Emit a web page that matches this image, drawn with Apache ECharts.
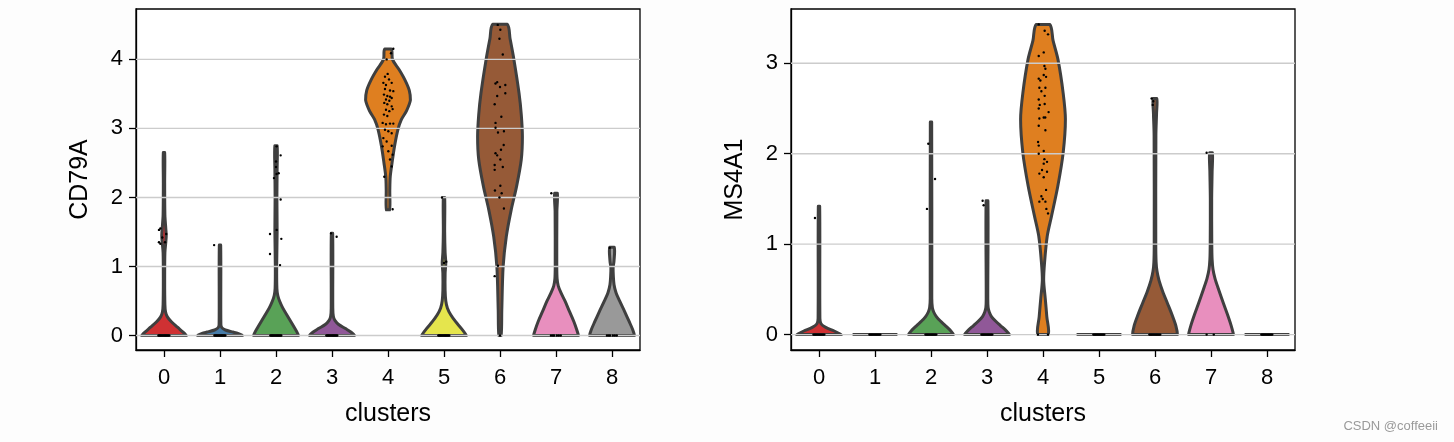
<!DOCTYPE html>
<html>
<head>
<meta charset="utf-8">
<script src="https://cdn.jsdelivr.net/npm/echarts@6/dist/echarts.min.js"></script>
<style>
html,body{margin:0;padding:0;background:#fdfdfd;}
#chart{width:1454px;height:442px;}
</style>
</head>
<body>
<div id="chart"></div>
<script>
// ---------------- data ----------------
const clusters = ['0','1','2','3','4','5','6','7','8'];
const clusterColors = ['#cf3133','#477ca8','#59a257','#905898','#df7f20','#e5e54d','#965a37','#e88fbe','#999999'];

const cd79aTicks = [0, 1, 2, 3, 4];
const ms4a1Ticks = [0, 1, 2, 3];

// violin profiles: [expression value, relative half width (1 = widest)]
const cd79aViolin = [
  [[0,1],[0.05,0.85],[0.12,0.6],[0.2,0.33],[0.27,0.15],[0.34,0.07],[0.45,0.04],[0.8,0.03],[1.2,0.04],[1.35,0.08],[1.45,0.1],[1.55,0.08],[1.75,0.04],[2.2,0.03],[2.65,0.03]],
  [[0,1],[0.03,0.8],[0.05,0.58],[0.08,0.24],[0.11,0.09],[0.16,0.04],[1.31,0.03]],
  [[0,1],[0.06,0.92],[0.15,0.76],[0.28,0.52],[0.4,0.3],[0.5,0.16],[0.58,0.08],[0.68,0.04],[1.0,0.03],[1.5,0.05],[2.0,0.04],[2.4,0.05],[2.75,0.05]],
  [[0,1],[0.05,0.84],[0.1,0.6],[0.16,0.3],[0.22,0.13],[0.28,0.06],[0.4,0.035],[1.48,0.03]],
  [[1.82,0.07],[2.1,0.08],[2.3,0.1],[2.5,0.18],[2.74,0.29],[2.98,0.44],[3.13,0.6],[3.25,0.82],[3.41,1.0],[3.55,0.95],[3.7,0.76],[3.85,0.5],[4.0,0.2],[4.15,0.15]],
  [[0,1],[0.1,0.78],[0.2,0.52],[0.3,0.3],[0.4,0.15],[0.5,0.08],[0.65,0.05],[0.9,0.05],[1.05,0.08],[1.2,0.05],[1.5,0.03],[2.0,0.03]],
  [[0,0.05],[0.37,0.08],[1.0,0.14],[1.43,0.28],[1.82,0.5],[2.16,0.74],[2.55,0.95],[2.88,1.0],[3.2,0.95],[3.51,0.85],[4.0,0.62],[4.3,0.45],[4.51,0.32]],
  [[0,1],[0.08,0.93],[0.2,0.8],[0.35,0.6],[0.5,0.4],[0.62,0.22],[0.72,0.1],[0.82,0.05],[1.0,0.035],[1.8,0.04],[2.06,0.06]],
  [[0,1],[0.08,0.93],[0.2,0.77],[0.35,0.56],[0.5,0.34],[0.62,0.18],[0.74,0.09],[0.86,0.06],[0.98,0.05],[1.08,0.09],[1.28,0.1]]
];
const ms4a1Violin = [
  [[0,1],[0.04,0.68],[0.08,0.3],[0.12,0.09],[0.18,0.04],[1.42,0.03]],
  [[0,1]],
  [[0,1],[0.05,0.85],[0.1,0.64],[0.15,0.42],[0.2,0.24],[0.25,0.12],[0.3,0.06],[0.4,0.035],[2.35,0.03]],
  [[0,1],[0.05,0.83],[0.1,0.6],[0.15,0.38],[0.2,0.2],[0.25,0.1],[0.3,0.05],[0.4,0.035],[1.48,0.04]],
  [[0,0.23],[0.2,0.17],[0.4,0.1],[0.6,0.03],[0.8,0.07],[1.09,0.19],[1.31,0.38],[1.64,0.66],[2.01,0.9],[2.38,1.0],[2.67,0.9],[3.04,0.67],[3.25,0.45],[3.43,0.3]],
  [[0,1]],
  [[0,1],[0.1,0.93],[0.22,0.76],[0.35,0.55],[0.48,0.34],[0.6,0.18],[0.7,0.09],[0.8,0.05],[1.0,0.035],[2.2,0.04],[2.45,0.07],[2.61,0.08]],
  [[0,1],[0.1,0.9],[0.22,0.74],[0.35,0.55],[0.5,0.34],[0.62,0.18],[0.72,0.09],[0.83,0.05],[1.0,0.035],[1.5,0.03],[1.8,0.05],[2.01,0.06]],
  [[0,1]]
];

// expressing cells: [cluster, value, jitter]
const cd79aPoints = [
  [0,1.53,-0.09],[0,1.55,-0.065],[0,1.42,-0.03],[0,1.47,0.04],[0,1.35,-0.09],[0,1.33,-0.065],[0,1.35,0.018],
  [1,1.31,-0.105],
  [2,2.74,0.012],[2,2.61,0.083],[2,2.52,0.0],[2,2.44,0.0],[2,2.28,-0.036],[2,2.35,0.048],[2,2.34,0.01],[2,1.97,0.083],
  [2,1.47,-0.107],[2,1.53,0.012],[2,1.40,0.095],[2,1.18,-0.107],[2,1.02,0.072],
  [3,1.48,-0.018],[3,1.43,0.083],
  [4,4.155,0.095],[4,4.09,0.054],[4,4.0,-0.024],[4,3.79,-0.006],[4,3.75,-0.054],[4,3.71,0.018],[4,3.66,-0.083],
  [4,3.63,-0.036],[4,3.66,0.066],[4,3.57,-0.054],[4,3.55,0.036],[4,3.54,0.095],[4,3.49,-0.072],[4,3.47,-0.012],
  [4,3.46,0.036],[4,3.44,0.066],[4,3.42,-0.036],[4,3.40,0.024],[4,3.37,-0.066],[4,3.35,-0.012],[4,3.32,0.066],
  [4,3.27,-0.036],[4,3.25,0.024],[4,3.28,0.083],[4,3.20,-0.072],[4,3.18,-0.012],[4,3.08,-0.095],[4,3.06,-0.036],
  [4,3.07,0.036],[4,3.07,0.095],[4,2.98,-0.054],[4,2.96,0.006],[4,2.93,0.066],[4,2.86,-0.083],[4,2.81,-0.024],
  [4,2.74,-0.095],[4,2.75,0.066],[4,2.67,0.006],[4,2.62,0.083],[4,2.55,0.036],[4,2.45,0.066],[4,2.30,-0.066],[4,1.83,0.083],
  [5,2.0,-0.036],[5,1.05,0.0],[5,1.07,0.04],
  [6,4.50,-0.04],[6,4.43,0.006],[6,4.30,-0.01],[6,4.07,0.05],[6,3.65,-0.08],[6,3.67,-0.05],[6,3.60,0.0],[6,3.63,0.095],
  [6,3.51,0.095],[6,3.47,-0.05],[6,3.35,-0.095],[6,3.17,0.024],[6,3.08,-0.08],[6,3.01,-0.08],[6,2.94,-0.036],[6,2.96,0.07],
  [6,2.76,0.066],[6,2.64,-0.08],[6,2.61,-0.05],[6,2.69,0.018],[6,2.55,0.006],[6,2.47,-0.095],[6,2.44,0.05],[6,2.40,-0.095],
  [6,2.17,0.006],[6,2.10,-0.09],[6,2.06,0.03],[6,2.0,-0.01],[6,1.84,0.07],[6,1.01,-0.036],[6,0.86,-0.095],[6,0,0],
  [7,2.06,-0.083],
  [8,1.27,-0.04]
];
const ms4a1Points = [
  [0,1.29,-0.072],
  [2,2.11,-0.048],[2,1.72,0.072],[2,1.39,-0.072],
  [3,1.48,-0.078],[3,1.43,-0.06],
  [4,3.43,-0.076],[4,3.36,0.03],[4,3.32,0.09],[4,3.12,0.013],[4,3.08,-0.076],[4,2.97,0.025],[4,2.94,0.043],[4,2.87,0.013],
  [4,2.85,0.055],[4,2.83,-0.076],[4,2.81,-0.047],[4,2.73,0.043],[4,2.73,-0.065],[4,2.69,-0.029],[4,2.64,0.03],[4,2.60,-0.076],
  [4,2.54,-0.058],[4,2.55,0.03],[4,2.50,-0.076],[4,2.46,0.1],[4,2.40,0.013],[4,2.39,-0.065],[4,2.40,0.04],[4,2.31,-0.076],
  [4,2.26,0.043],[4,2.13,-0.088],[4,2.09,-0.076],[4,2.03,0.013],[4,2.0,-0.076],[4,1.94,0.025],[4,1.91,0.072],[4,1.89,0.013],
  [4,1.82,-0.017],[4,1.80,0.072],[4,1.78,-0.065],[4,1.74,0.013],[4,1.60,0.055],[4,1.53,-0.029],[4,1.50,-0.005],[4,1.47,-0.065],
  [4,1.47,0.043],[4,1.39,0.06],[4,1.34,0.09],[4,0,-0.09],[4,0,0.09],
  [6,2.61,-0.06],[6,2.58,-0.03],[6,2.54,-0.04],
  [7,2.01,-0.078],[7,0,-0.078],[7,0,0.05]
];

// non-expressing cells (value 0): jitter positions and which clusters
const denseZeroJitter = [-0.1,-0.085,-0.07,-0.055,-0.04,-0.025,-0.01,0.005,0.02,0.035,0.05,0.065,0.08,0.095];
const sparseZeroJitter = [-0.09,-0.06,-0.035,0.015,0.05,0.085];
const cd79aZeroDense = [0,1,2,3,5];
const cd79aZeroSparse = [7,8];
const ms4a1ZeroDense = [0,1,2,3,5,6,8];

// ---------------- build ----------------
function withZeros(points, dense, sparse) {
  const out = points.slice();
  dense.forEach(c => denseZeroJitter.forEach(j => out.push([c, 0, j])));
  sparse.forEach(c => sparseZeroJitter.forEach(j => out.push([c, 0, j])));
  return out;
}
const cd79aAll = withZeros(cd79aPoints, cd79aZeroDense, cd79aZeroSparse);
const ms4a1All = withZeros(ms4a1Points, ms4a1ZeroDense, []);

const FONT = "'Liberation Sans', Arial, Helvetica, sans-serif";
const OUTLINE = '#3f3f3f';
const OUTLINE_W = 3;

function violinSeries(profiles, gi) {
  return {
    type: 'custom', xAxisIndex: gi, yAxisIndex: gi, z: 2, silent: true,
    data: profiles.map((p, i) => [i, p[p.length - 1][0]]),
    renderItem: function (params, api) {
      const idx = params.dataIndex;
      const prof = profiles[idx];
      const band = api.size([1, 0])[0];
      const half = band * 0.4;
      const cx = api.coord([idx, 0])[0];
      if (prof.length === 1) {
        const y = api.coord([idx, prof[0][0]])[1];
        return { type: 'line', shape: { x1: cx - half, y1: y, x2: cx + half, y2: y },
                 style: { stroke: OUTLINE, lineWidth: OUTLINE_W } };
      }
      const right = prof.map(p => [cx + p[1] * half, api.coord([idx, p[0]])[1]]);
      const left = prof.slice().reverse().map(p => [cx - p[1] * half, api.coord([idx, p[0]])[1]]);
      const pts = right.concat(left);
      let x0 = Infinity, y0 = Infinity, x1 = -Infinity, y1 = -Infinity;
      pts.forEach(q => { x0 = Math.min(x0, q[0]); y0 = Math.min(y0, q[1]); x1 = Math.max(x1, q[0]); y1 = Math.max(y1, q[1]); });
      return { type: 'polygon',
               shape: { points: pts, smooth: 0.3, smoothConstraint: [[x0, y0], [x1, y1]] },
               style: { fill: clusterColors[idx], stroke: OUTLINE, lineWidth: OUTLINE_W, lineJoin: 'round' } };
    }
  };
}

function gridLineSeries(ticks, gi) {
  return {
    type: 'custom', xAxisIndex: gi, yAxisIndex: gi, z: 3, silent: true,
    data: ticks.map(t => [0, t]),
    renderItem: function (params, api) {
      const cs = params.coordSys;
      const y = api.coord([0, ticks[params.dataIndex]])[1];
      return { type: 'line', shape: { x1: cs.x, y1: y, x2: cs.x + cs.width, y2: y },
               style: { stroke: '#cccccc', lineWidth: 1.4 } };
    }
  };
}

function pointSeries(points, gi) {
  return {
    type: 'custom', xAxisIndex: gi, yAxisIndex: gi, z: 4, silent: true,
    data: points.map(p => [p[0], p[1]]),
    renderItem: function (params, api) {
      const p = points[params.dataIndex];
      const band = api.size([1, 0])[0];
      const c = api.coord([p[0], p[1]]);
      return { type: 'circle', shape: { cx: c[0] + p[2] * band, cy: c[1], r: 1.2 }, style: { fill: '#000' } };
    }
  };
}

function xAxis(gi) {
  return {
    type: 'category', gridIndex: gi, data: clusters, boundaryGap: true,
    name: 'clusters', nameLocation: 'middle', nameGap: 52,
    nameTextStyle: { fontFamily: FONT, fontSize: 25, color: '#000' },
    axisLine: { show: true, onZero: false, lineStyle: { color: '#000', width: 1.3 } },
    axisTick: { show: true, alignWithLabel: true, length: 7, lineStyle: { color: '#000', width: 1.3 } },
    axisLabel: { fontFamily: FONT, fontSize: 22, color: '#000', margin: 17 },
    splitLine: { show: false }
  };
}
function yAxis(gi, name, ticks, min, max) {
  return {
    type: 'value', gridIndex: gi, min: min, max: max,
    name: name, nameLocation: 'middle', nameGap: 43,
    nameTextStyle: { fontFamily: FONT, fontSize: 25, color: '#000' },
    axisLine: { show: true, onZero: false, lineStyle: { color: '#000', width: 1.3 } },
    axisTick: { show: true, length: 7, customValues: ticks, lineStyle: { color: '#000', width: 1.3 } },
    axisLabel: { fontFamily: FONT, fontSize: 22, color: '#000', margin: 13, customValues: ticks },
    splitLine: { show: false }
  };
}

const option = {
  animation: false,
  backgroundColor: '#fdfdfd',
  grid: [
    { left: 136, top: 9, width: 504, height: 341, show: true, backgroundColor: '#ffffff', borderColor: '#000', borderWidth: 1.3 },
    { left: 791, top: 9, width: 504, height: 341, show: true, backgroundColor: '#ffffff', borderColor: '#000', borderWidth: 1.3 }
  ],
  xAxis: [xAxis(0), xAxis(1)],
  yAxis: [yAxis(0, 'CD79A', cd79aTicks, -0.21, 4.73), yAxis(1, 'MS4A1', ms4a1Ticks, -0.17, 3.6)],
  graphic: [{
    type: 'text', right: 16, top: 420,
    style: { text: 'CSDN @coffeeii', fontFamily: FONT, fontSize: 13, fill: '#9a9a9a' }
  }],
  series: [
    violinSeries(cd79aViolin, 0), gridLineSeries(cd79aTicks, 0), pointSeries(cd79aAll, 0),
    violinSeries(ms4a1Violin, 1), gridLineSeries(ms4a1Ticks, 1), pointSeries(ms4a1All, 1)
  ]
};
const chart = echarts.init(document.getElementById('chart'), null, { renderer: 'canvas' });
chart.setOption(option);
</script>
</body>
</html>
